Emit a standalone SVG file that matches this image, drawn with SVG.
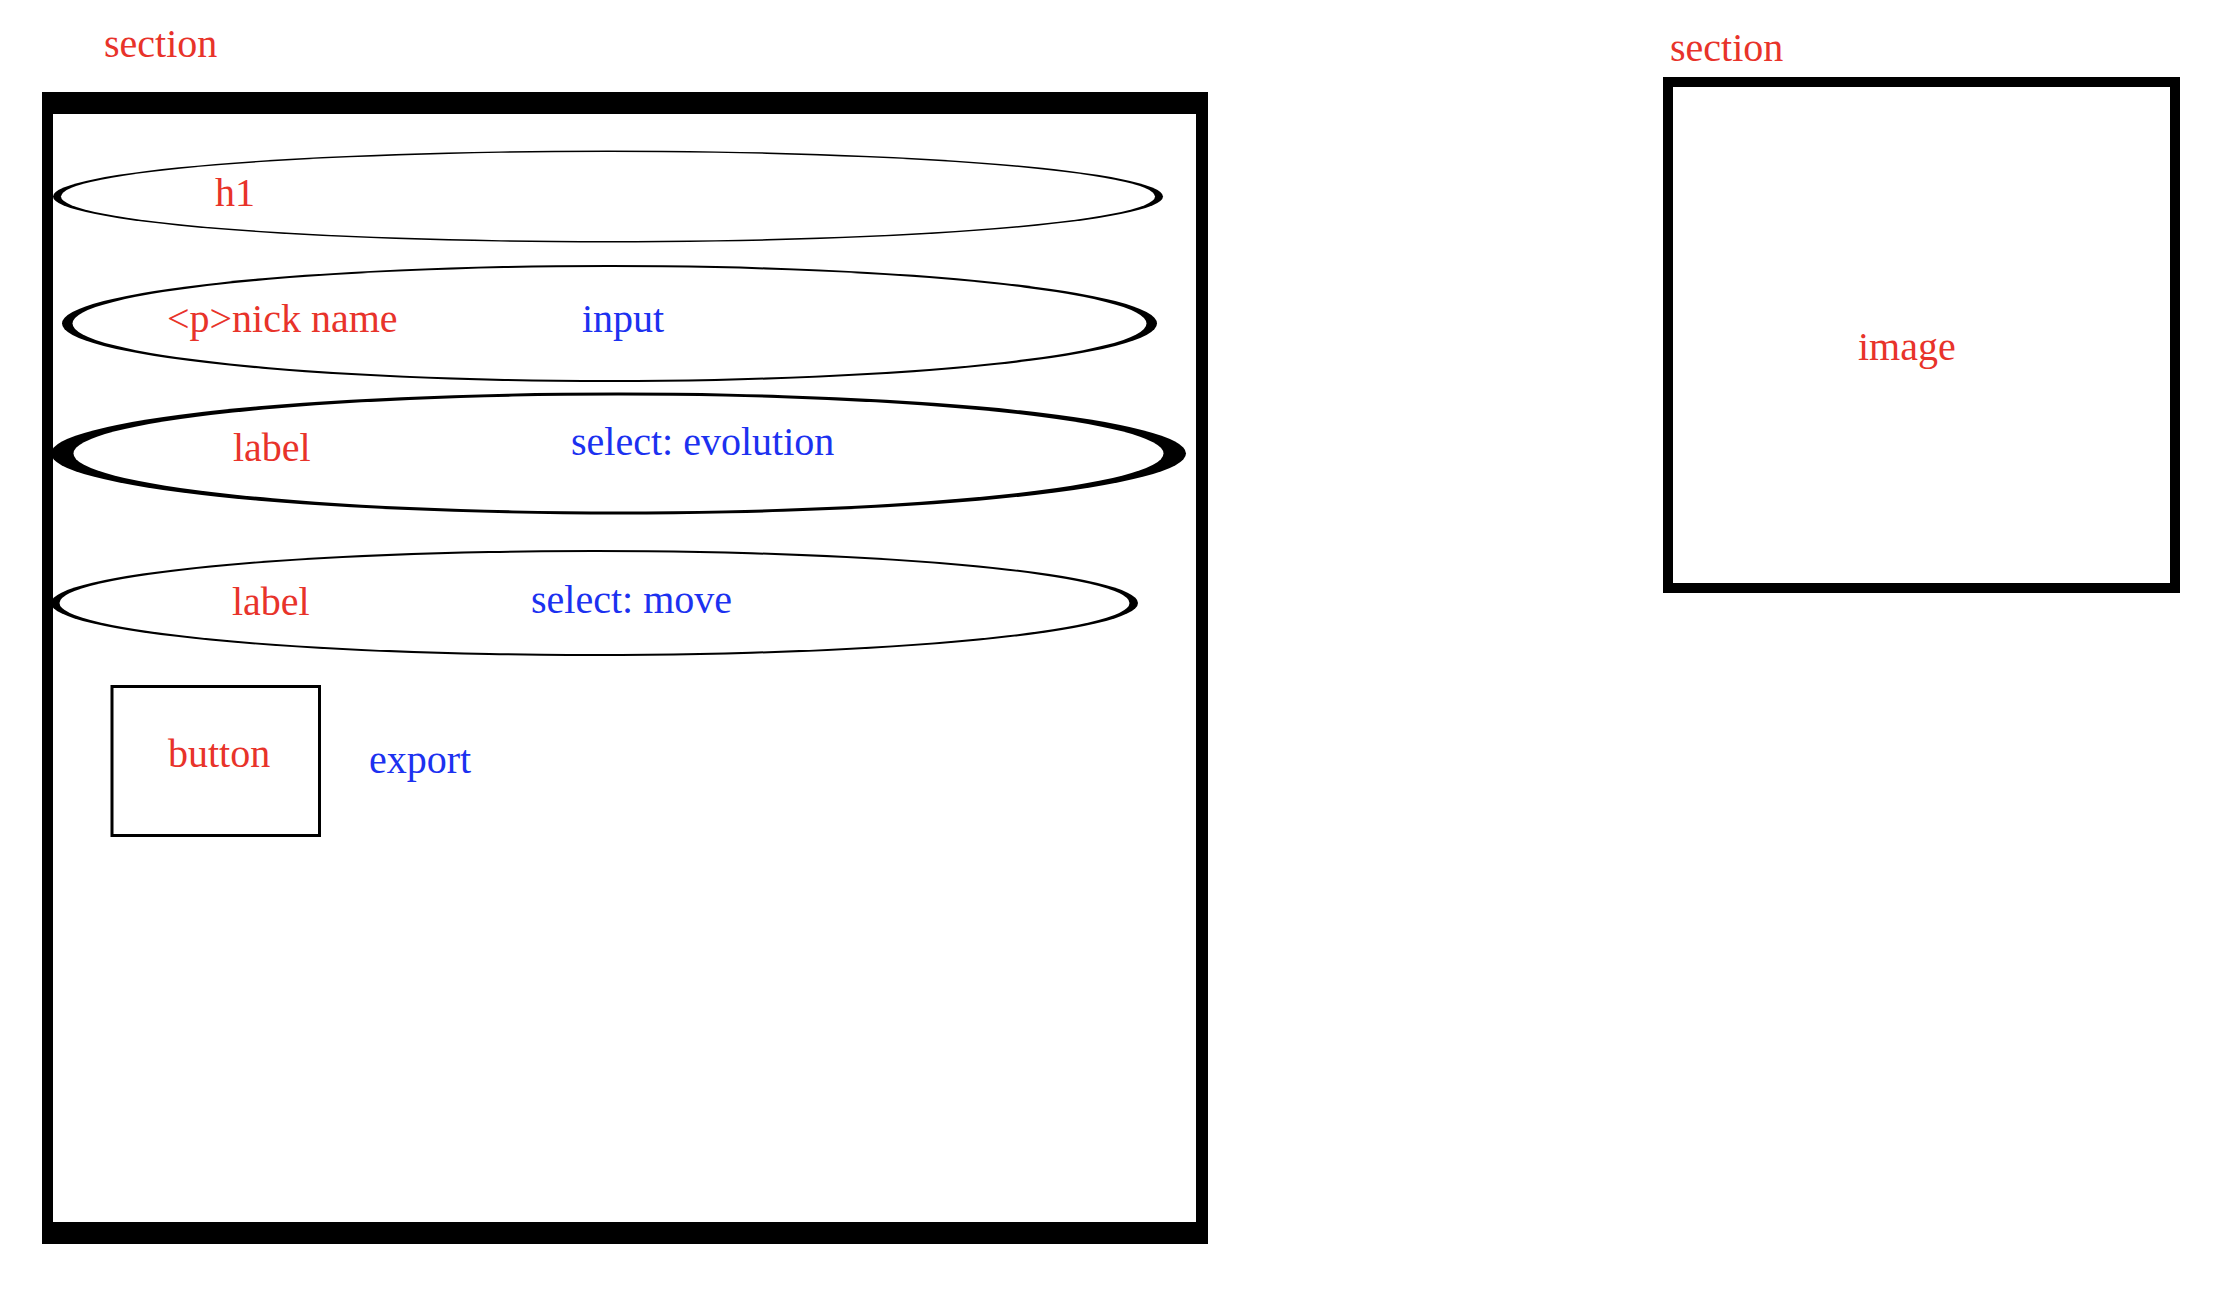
<svg xmlns="http://www.w3.org/2000/svg" width="2232" height="1290" viewBox="0 0 2232 1290">
<style>
text{font-family:"Liberation Serif","Times New Roman",serif;font-size:40px}
.r{fill:#e8332a}
.b{fill:#1c31f0}
.ring{fill:#000}
.hole{fill:#fff}
</style>
<rect width="2232" height="1290" fill="#fff"/>
<g id="section-left">
<text class="r" x="104" y="57">section</text>
<rect x="42" y="92" width="1166" height="1152" fill="#000"/>
<rect x="53" y="114" width="1143" height="1108" fill="#fff"/>
</g>
<g id="h1-row">
<ellipse class="ring" cx="608" cy="196.5" rx="555" ry="46"/>
<ellipse class="hole" cx="608" cy="196.5" rx="547" ry="44.5"/>
<text class="r" x="215" y="206">h1</text>
</g>
<g id="nickname-row">
<ellipse class="ring" cx="609.5" cy="323.5" rx="547.5" ry="58.5"/>
<ellipse class="hole" cx="609.5" cy="323.5" rx="537" ry="56.5"/>
<text class="r" x="167" y="332">&lt;p&gt;nick name</text>
<text class="b" x="582" y="332">input</text>
</g>
<g id="evolution-row">
<ellipse class="ring" cx="618.5" cy="453.5" rx="567.5" ry="61"/>
<ellipse class="hole" cx="618.5" cy="453.5" rx="545" ry="58"/>
<text class="r" x="233" y="461">label</text>
<text class="b" x="571" y="455">select: evolution</text>
</g>
<g id="move-row">
<ellipse class="ring" cx="594.5" cy="603" rx="543.5" ry="53"/>
<ellipse class="hole" cx="594.5" cy="603" rx="535" ry="51"/>
<text class="r" x="232" y="615">label</text>
<text class="b" x="531" y="613">select: move</text>
</g>
<g id="button">
<rect x="112" y="686.5" width="207.5" height="149" fill="none" stroke="#000" stroke-width="3"/>
<text class="r" x="168" y="767">button</text>
<text class="b" x="369" y="773">export</text>
</g>
<g id="section-right">
<text class="r" x="1670" y="61">section</text>
<rect x="1668" y="82" width="507" height="506" fill="none" stroke="#000" stroke-width="10"/>
<text class="r" x="1858" y="360">image</text>
</g>
<g id="connectors"></g>
</svg>
